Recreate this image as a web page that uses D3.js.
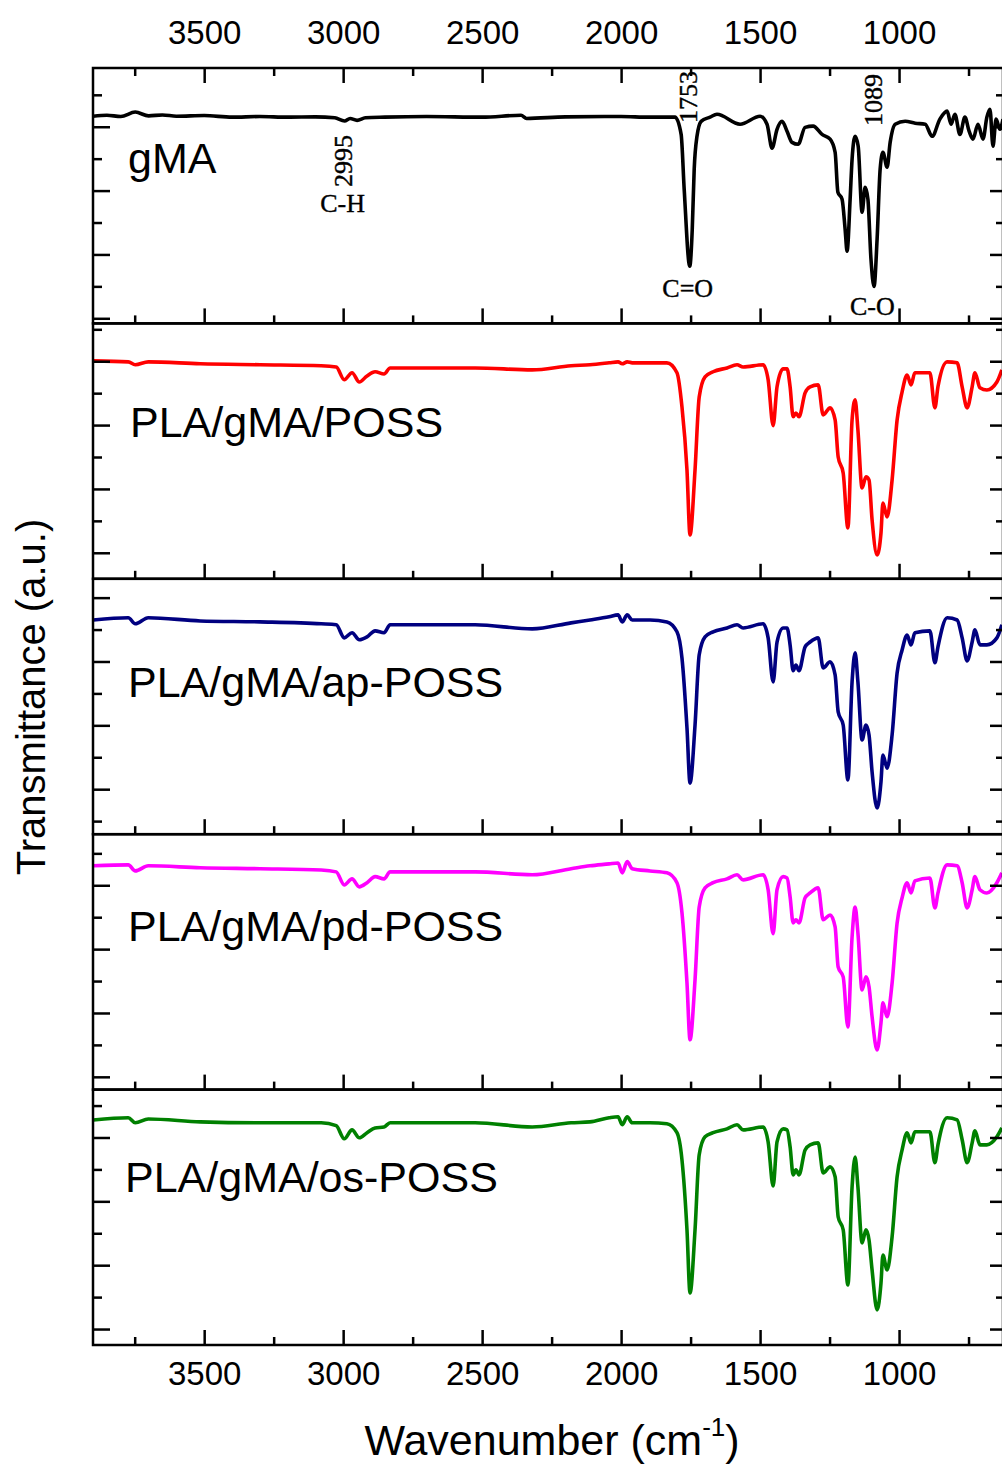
<!DOCTYPE html>
<html>
<head>
<meta charset="utf-8">
<script src="https://cdn.jsdelivr.net/npm/d3@7"></script>
<style>
body { margin: 0; background: #fff; }
svg { font-family: "Liberation Sans", Arial, sans-serif; }
</style>
</head>
<body>
<script>
// gMA spectrum (its own sampling), transmittance in %
const a_wn_gma = [3900,3850,3800,3748,3700,3650,3600,3500,3400,3300,3200,3100,3030,2995,2975,2950,2920,2850,2700,2500,
    2360,2340,2200,2000,1900,1806,1784,1773,1753,1744,1737,1727,1712,1680,1655,1572,1500,1475,1457,1439,
    1421,1403,1385,1363,1338,1309,1277,1248,1230,1220,1205,1194,1187,1176,1169,1158,1147,1133,1122,1112,
    1101,1090,1079,1068,1058,1043,1032,1014,978,942,906,881,853,827,813,799,781,763,748,734,
    716,698,684,673,662,651,637,626];
const a_t_gma = [63.3,63.6,63.2,64.6,63.4,63.7,63.3,63.5,63.0,63.2,63.0,63.1,62.8,61.8,62.6,62.0,62.8,63.0,63.2,63.0,
    63.6,62.6,63.1,63.2,63.0,63.0,57.6,40.4,16.3,27.9,46.7,57.0,61.7,63.0,63.9,60.8,63.3,60.8,53.3,59.2,
    61.7,58.6,55.1,54.5,59.8,60.2,57.6,56.1,52.0,39.5,37.3,27.9,21.0,37.3,49.8,57.0,53.9,33.2,41.0,37.3,
    18.5,10.0,24.7,46.7,52.0,47.3,55.1,60.8,61.7,61.1,60.8,57.0,62.4,64.9,60.8,63.9,57.6,63.0,58.6,56.1,
    60.8,56.1,63.0,65.5,53.9,62.4,59.2,62.4];

// the four PLA blends were read at the same wavenumbers
const a_wn_pla = [3899,3773,3748,3701,3514,3299,3079,3025,2996,2968,2942,2914,2885,2853,2831,2525,2320,2180,2112,2043,
    2011,1996,1978,1960,1896,1835,1799,1781,1763,1752,1734,1719,1698,1669,1619,1583,1561,1489,1471,1453,
    1439,1417,1403,1392,1381,1371,1360,1338,1320,1291,1273,1248,1230,1219,1201,1184,1169,1158,1148,1133,
    1119,1108,1097,1079,1065,1058,1043,1025,1007,989,971,957,943,889,871,860,827,791,773,755,
    737,727,709,684,648,630];
const a_t_poss = [60.1,59.8,58.9,59.8,59.2,58.9,58.6,58.2,54.2,56.4,53.5,55.4,56.7,56.0,57.9,57.9,57.3,58.6,58.9,59.5,
    59.8,59.2,59.8,59.5,59.5,59.5,56.4,45.7,26.0,5.6,26.0,48.8,55.1,56.7,57.9,58.9,58.2,58.9,54.2,39.8,
    52.0,57.6,57.6,52.0,42.6,43.8,42.6,50.1,52.0,52.6,43.2,45.4,41.6,30.0,25.0,7.8,41.6,47.9,38.5,20.3,
    23.8,22.8,10.3,-0.7,6.2,15.6,11.2,22.8,41.6,50.4,55.7,52.6,56.4,56.4,45.4,52.0,59.8,59.5,52.0,45.4,
    52.0,56.4,51.7,51.0,53.5,57.3];
const a_t_ap = [53.0,53.7,51.8,53.7,52.7,52.4,51.8,51.5,47.4,49.0,46.8,47.7,49.6,49.0,51.5,51.5,50.2,52.1,53.0,54.0,
    54.6,52.4,54.6,53.0,53.0,52.4,49.3,41.1,19.2,1.9,20.1,42.1,47.7,49.3,50.5,51.5,50.5,51.8,47.4,33.6,
    46.1,50.5,50.5,45.2,37.1,38.9,37.1,44.6,46.1,47.4,38.0,39.9,35.8,24.2,20.1,2.9,33.6,42.7,33.6,15.4,
    20.1,17.0,5.4,-5.9,2.3,10.7,6.6,17.0,36.4,43.6,48.3,45.2,49.0,49.6,39.6,44.6,53.7,53.0,47.4,40.2,
    46.1,49.9,45.2,45.2,47.4,51.5];
const a_t_pd = [66.1,66.4,64.5,66.1,65.5,65.2,64.8,64.2,60.1,62.0,59.5,60.8,62.7,62.0,64.2,64.2,63.3,65.2,66.1,66.7,
    67.0,63.9,67.4,65.2,64.5,63.9,60.8,51.4,29.4,11.6,30.4,53.2,59.2,60.8,62.0,63.3,61.7,63.3,58.6,44.8,
    58.6,62.7,62.3,56.4,48.2,49.2,48.2,56.1,57.6,59.2,49.2,50.7,47.0,34.4,31.3,15.6,43.8,53.2,45.1,27.2,
    31.3,28.2,18.8,8.4,16.9,23.2,18.8,29.4,48.2,56.1,60.8,57.6,61.4,62.3,52.9,57.6,66.4,66.1,60.8,52.9,
    58.6,62.7,58.6,57.6,60.8,63.9];
const a_t_os = [65.5,66.2,64.6,65.8,64.9,64.6,64.6,63.7,59.6,62.4,59.9,61.5,63.0,63.3,64.6,64.6,63.3,64.6,64.9,66.2,
    66.5,64.0,66.5,64.6,64.6,64.3,61.5,53.0,31.1,11.3,31.1,54.6,60.2,61.5,62.7,64.0,62.4,63.3,58.6,44.8,
    58.6,62.7,62.4,57.1,48.3,49.9,48.3,56.1,57.7,58.3,48.9,50.8,47.7,35.1,31.1,13.8,44.5,53.9,44.5,27.0,
    31.1,27.9,18.5,6.0,14.4,23.2,18.5,28.9,47.7,56.1,61.5,58.3,61.8,61.8,52.1,57.7,66.2,65.5,59.3,52.1,
    58.3,62.1,57.7,57.7,60.2,63.0];

const a_names = ["gMA", "PLA/gMA/POSS", "PLA/gMA/ap-POSS", "PLA/gMA/pd-POSS", "PLA/gMA/os-POSS"];
const a_colors = ["#000000", "#ff0000", "#000080", "#ff00ff", "#008000"];
const a_y_low = [-1.6, -8.15, -14.1, -4, -5];      // lower end of each stacked panel (% T)
const v_y_span = 80;
const a_x_major = [3500, 3000, 2500, 2000, 1500, 1000];
const a_x_minor = [3750, 3250, 2750, 2250, 1750, 1250, 750];
const a_y_major = [0, 20, 40, 60];
const a_y_minor = [-10, 10, 30, 50, 70];
const a_peak_wn = [2995, 1753, 1089];
const a_peak_bond = ["C-H", "C=O", "C-O"];

const d_margin = {top: 68, left: 93, right: 1003, bottom: 1345};
const v_plot_w = d_margin.right - d_margin.left;
const v_panel_h = (d_margin.bottom - d_margin.top) / a_names.length;
// label placement inside each panel
const a_label_dx = [35, 37, 35, 35, 32];
const a_label_dy = [105, 114, 118, 107, 102];

var a_series = [
    d3.zip(a_wn_gma, a_t_gma),
    d3.zip(a_wn_pla, a_t_poss),
    d3.zip(a_wn_pla, a_t_ap),
    d3.zip(a_wn_pla, a_t_pd),
    d3.zip(a_wn_pla, a_t_os)
];

var svg = d3.select("body").append("svg")
    .attr("width", 1002)
    .attr("height", 1468);

var x = d3.scaleLinear().domain([3900, 626]).range([0, v_plot_w]);

function style_ticks(g) {
    g.select(".domain").remove();
    g.selectAll(".tick line").attr("stroke", "#000").attr("stroke-width", 2.5);
}

a_series.forEach(function(points, i) {
    var y = d3.scaleLinear()
        .domain([a_y_low[i], a_y_low[i] + v_y_span])
        .range([v_panel_h, 0]);
    var in_dom = function(v) { return v >= y.domain()[0] && v <= y.domain()[1]; };

    var g = svg.append("g")
        .attr("transform", `translate(${d_margin.left},${d_margin.top + i * v_panel_h})`);

    g.append("clipPath").attr("id", "clip" + i)
        .append("rect").attr("width", v_plot_w).attr("height", v_panel_h);

    var line = d3.line()
        .x(function(d) { return x(d[0]); })
        .y(function(d) { return y(d[1]); })
        .curve(d3.curveMonotoneX);

    g.append("path")
        .datum(points)
        .attr("clip-path", `url(#clip${i})`)
        .attr("fill", "none")
        .attr("stroke", a_colors[i])
        .attr("stroke-width", 3.6)
        .attr("stroke-linejoin", "round")
        .attr("d", line);

    // x ticks along the bottom of every panel, pointing in
    g.append("g").attr("transform", `translate(0,${v_panel_h})`)
        .call(d3.axisBottom(x).tickValues(a_x_minor).tickSize(-8).tickFormat(""))
        .call(style_ticks);
    var g_xb = g.append("g").attr("transform", `translate(0,${v_panel_h})`)
        .call(d3.axisBottom(x).tickValues(a_x_major).tickSize(-15).tickPadding(17)
            .tickFormat(i == a_series.length - 1 ? d3.format("d") : ""))
        .call(style_ticks);
    g_xb.attr("font-size", 33).attr("font-family", "Liberation Sans, Arial, sans-serif");

    if (i == 0) {
        g.append("g")
            .call(d3.axisTop(x).tickValues(a_x_minor).tickSize(-8).tickFormat(""))
            .call(style_ticks);
        g.append("g")
            .call(d3.axisTop(x).tickValues(a_x_major).tickSize(-15).tickPadding(24).tickFormat(d3.format("d")))
            .call(style_ticks)
            .attr("font-size", 33).attr("font-family", "Liberation Sans, Arial, sans-serif");
    }

    // y ticks on both sides
    g.append("g")
        .call(d3.axisLeft(y).tickValues(a_y_major.filter(in_dom)).tickSize(-17).tickFormat(""))
        .call(style_ticks);
    g.append("g")
        .call(d3.axisLeft(y).tickValues(a_y_minor.filter(in_dom)).tickSize(-9).tickFormat(""))
        .call(style_ticks);
    g.append("g").attr("transform", `translate(${v_plot_w},0)`)
        .call(d3.axisRight(y).tickValues(a_y_major.filter(in_dom)).tickSize(-13).tickFormat(""))
        .call(style_ticks);
    g.append("g").attr("transform", `translate(${v_plot_w},0)`)
        .call(d3.axisRight(y).tickValues(a_y_minor.filter(in_dom)).tickSize(-7).tickFormat(""))
        .call(style_ticks);

    g.append("rect")
        .attr("width", v_plot_w)
        .attr("height", v_panel_h)
        .attr("fill", "none")
        .attr("stroke", "#000")
        .attr("stroke-width", 2.5);

    g.append("text")
        .attr("x", a_label_dx[i])
        .attr("y", a_label_dy[i])
        .attr("font-size", 43)
        .attr("fill", "#000")
        .text(a_names[i]);

    if (i == 0) {
        // peak marks on the gMA spectrum
        var g_ann = g.append("g")
            .attr("font-family", "Liberation Serif, Times New Roman, serif")
            .attr("stroke", "#000").attr("stroke-width", 0.4);
        var a_num_y = [93, 29, 32];
        var a_bond_y = [144, 229, 247];
        a_peak_wn.forEach(function(wn, k) {
            var px = x(wn) - 2;
            g_ann.append("text")
                .attr("transform", `translate(${px + 1},${a_num_y[k]}) rotate(-90)`)
                .attr("text-anchor", "middle")
                .attr("dominant-baseline", "central")
                .attr("font-size", 26)
                .text(wn);
            g_ann.append("text")
                .attr("x", px)
                .attr("y", a_bond_y[k])
                .attr("text-anchor", "middle")
                .attr("font-size", 26)
                .text(a_peak_bond[k]);
        });
    }
});

// axis titles
svg.append("text")
    .attr("transform", "translate(45,697) rotate(-90)")
    .attr("text-anchor", "middle")
    .attr("font-size", 40)
    .text("Transmittance (a.u.)");

var t_x = svg.append("text")
    .attr("x", 552)
    .attr("y", 1455)
    .attr("text-anchor", "middle")
    .attr("font-size", 43);
t_x.append("tspan").text("Wavenumber (cm");
t_x.append("tspan").attr("font-size", 26).attr("dy", -19).text("-1");
t_x.append("tspan").attr("dy", 19).text(")");
</script>
</body>
</html>
